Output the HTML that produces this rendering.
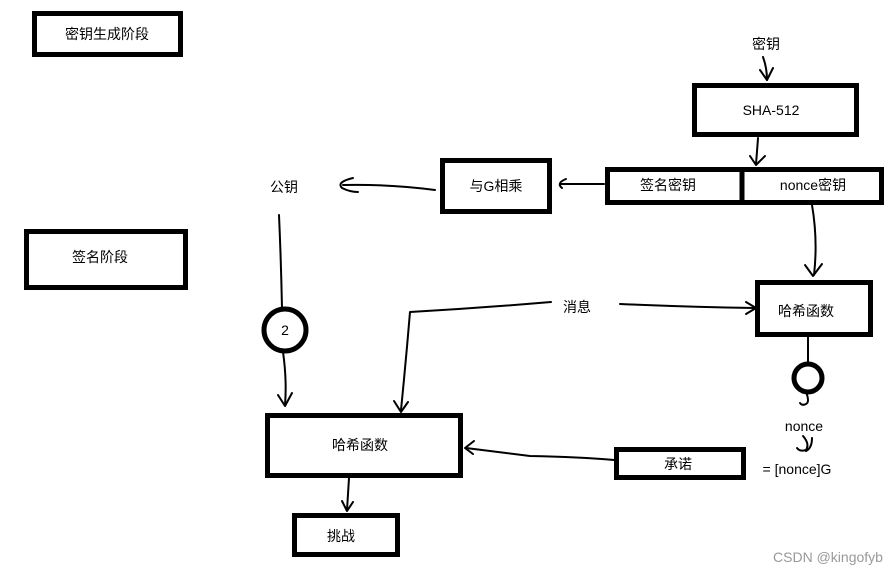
<!DOCTYPE html>
<html><head><meta charset="utf-8"><style>
html,body{margin:0;padding:0;background:#fff;}
svg{display:block;}
text{font-family:"Liberation Sans","Noto Sans CJK SC",sans-serif;font-size:14px;fill:#000;}
</style></head><body>
<svg width="892" height="575" viewBox="0 0 892 575" xmlns="http://www.w3.org/2000/svg">
<g fill="none" stroke="#000" stroke-width="5">
<rect x="34.5" y="13.5" width="146" height="41"/>
<rect x="26.5" y="231.5" width="159" height="56"/>
<rect x="694.5" y="85.5" width="162" height="49"/>
<rect x="442.5" y="160.5" width="107" height="51"/>
<rect x="607.5" y="169.5" width="274" height="33"/>
<line x1="742" y1="169" x2="742" y2="203"/>
<rect x="757.5" y="282.5" width="113" height="52"/>
<rect x="267.5" y="415.5" width="193" height="60"/>
<rect x="294.5" y="515.5" width="103" height="39"/>
<rect x="616.5" y="449.5" width="127" height="28"/>
<circle cx="285" cy="330" r="21"/>
<circle cx="808" cy="378" r="14"/>
</g>
<g fill="none" stroke="#000" stroke-width="2" stroke-linecap="round" stroke-linejoin="round">
<path d="M763 57 Q767 68 767 80"/><path d="M760 70 L767 80 L773 68"/>
<path d="M758 138 Q757 152 756 164"/><path d="M750 156 L756 165 L765 156"/>
<path d="M604 184 L560 184"/><path d="M566 179 Q556 183 562 188"/>
<path d="M435 190 Q390 184 343 185"/><path d="M353 178 Q336 182 342 188 Q350 192 358 192"/>
<path d="M279 215 Q281 260 282 308"/>
<path d="M283 352 Q287 380 285 405"/><path d="M278 395 L285 406 L292 393"/>
<path d="M812 205 Q818 240 814 275"/><path d="M805 265 L813 276 L822 264"/>
<path d="M620 304 Q690 307 755 308"/><path d="M746 302 L756 308 L746 314"/>
<path d="M551 302 Q480 308 410 312 Q406 360 401 410"/><path d="M394 401 L401 412 L408 402"/>
<path d="M808 336 L808 364"/>
<path d="M806 392 Q810 402 806 404 Q802 406 800 403"/>
<path d="M803 436 Q810 444 806 450 Q800 452 797 448"/><path d="M812 438 Q812 448 806 451"/>
<path d="M614 460 Q580 457 530 456 Q490 451 466 448"/><path d="M474 441 L465 448 L473 454"/>
<path d="M349 478 Q348 494 347 510"/><path d="M342 501 L347 511 L353 502"/>
</g>
<text x="107" y="39" text-anchor="middle">密钥生成阶段</text>
<text x="100" y="262" text-anchor="middle">签名阶段</text>
<text x="766" y="49" text-anchor="middle">密钥</text>
<text x="771" y="115" text-anchor="middle" font-size="15">SHA-512</text>
<text x="496" y="191" text-anchor="middle">与G相乘</text>
<text x="668" y="190" text-anchor="middle">签名密钥</text>
<text x="813" y="190" text-anchor="middle">nonce密钥</text>
<text x="284" y="192" text-anchor="middle">公钥</text>
<text x="577" y="312" text-anchor="middle">消息</text>
<text x="806" y="316" text-anchor="middle">哈希函数</text>
<text x="285" y="335" text-anchor="middle">2</text>
<text x="360" y="450" text-anchor="middle">哈希函数</text>
<text x="341" y="541" text-anchor="middle">挑战</text>
<text x="678" y="469" text-anchor="middle">承诺</text>
<text x="804" y="431" text-anchor="middle" font-size="15">nonce</text>
<text x="797" y="474" text-anchor="middle" font-size="15">= [nonce]G</text>
<text x="828" y="562" text-anchor="middle" font-size="13" style="fill:#999">CSDN @kingofyb</text>
</svg>
</body></html>
